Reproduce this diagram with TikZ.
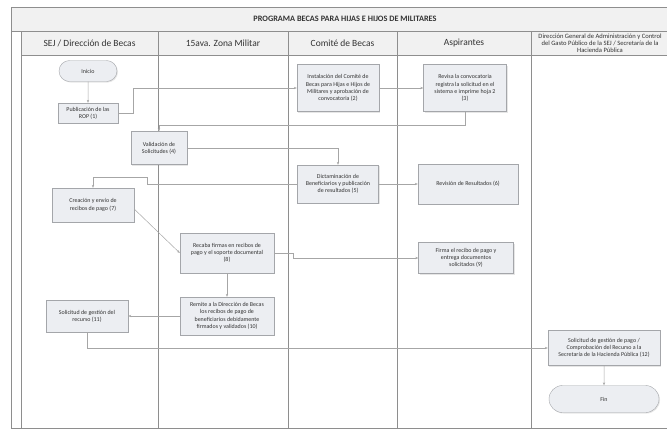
\documentclass[tikz,border=0pt]{standalone}
\usepackage{fontspec}
\setmainfont{Carlito}
\usetikzlibrary{arrows.meta,shadows,shapes.misc}
\definecolor{BoxFill}{HTML}{ECEEF2}
\definecolor{BoxLine}{HTML}{A4A6AA}
\definecolor{LaneLine}{HTML}{8E8E8E}
\definecolor{HeadFill}{HTML}{F1F1F1}

\begin{document}
\begin{tikzpicture}[x=1bp,y=-1bp,
    proc/.style={draw=BoxLine, fill=BoxFill, align=center, inner sep=1bp,
        font=\fontsize{6}{7.3}\selectfont, text=black!80,
        drop shadow={shadow xshift=1bp, shadow yshift=-1bp, opacity=0.2}},
    term/.style={proc, rounded rectangle},
    flow/.style={draw=gray!70, line width=0.5bp, -{Stealth[length=3bp,width=2.4bp]}},
    lanehead/.style={font=\fontsize{9.5}{11}\selectfont, text=black!80, align=center}]
    \useasboundingbox (0,0) rectangle (667,432);

%                    Pool and lanes
    \filldraw[draw=LaneLine, fill=HeadFill] (11,7) rectangle (700,31);
    \filldraw[draw=LaneLine, fill=HeadFill] (21,31) rectangle (700,55);
    \draw[LaneLine] (11,7) -- (11,428) -- (700,428);
    \foreach \x in {21,158,288,397,531} {
        \draw[LaneLine] (\x,31) -- (\x,428);
    }
    \node[font=\bfseries\fontsize{8.3}{10}\selectfont, text=black!80] (title) at (345,19) {PROGRAMA BECAS PARA HIJAS E HIJOS DE MILITARES};
    \node[lanehead] (lane1) at (89.5,43) {SEJ / Dirección de Becas};
    \node[lanehead] (lane2) at (223,43) {15ava. Zona Militar};
    \node[lanehead] (lane3) at (342.5,43) {Comité de Becas};
    \node[lanehead] (lane4) at (464,43) {Aspirantes};
    \node[lanehead, font=\fontsize{6.6}{7}\selectfont] (lane5) at (600,43) {Dirección General de Administración y Control\\del Gasto Público de la SEJ / Secretaría de la\\Hacienda Pública};

%                    Steps
    \node[term, minimum width=60bp, minimum height=21bp] (inicio) at (88,71) {Inicio};
    \node[proc, minimum width=60bp, minimum height=20bp] (rop) at (88,113) {Publicación de las\\ROP (1)};
    \node[proc, minimum width=82bp, minimum height=47bp] (comite) at (338,88) {Instalación del Comité de\\Becas para Hijas e Hijos de\\Militares y aprobación de\\convocatoria (2)};
    \node[proc, minimum width=83bp, minimum height=47bp] (revisa) at (465,88) {Revisa la convocatoria\\registra la solicitud en el\\sistema e imprime hoja 2\\(3)};
    \node[proc, minimum width=56bp, minimum height=33bp] (valida) at (159,148) {Validación de\\Solicitudes (4)};
    \node[proc, minimum width=81bp, minimum height=38bp] (dictamen) at (338,184) {Dictaminación de\\Beneficiarios y publicación\\de resultados (5)};
    \node[proc, minimum width=100bp, minimum height=40bp] (resultados) at (468,184) {Revisión de Resultados (6)};
    \node[proc, minimum width=82bp, minimum height=34bp] (creacion) at (93,205) {Creación y envío de\\recibos de pago (7)};
    \node[proc, minimum width=94bp, minimum height=40bp] (recaba) at (227,253) {Recaba firmas en recibos de\\pago y el soporte documental\\(8)};
    \node[proc, minimum width=95bp, minimum height=31bp] (firma) at (466,258) {Firma el recibo de pago y\\entrega documentos\\solicitados (9)};
    \node[proc, minimum width=94bp, minimum height=38bp] (remite) at (227,316) {Remite a la Dirección de Becas\\los recibos de pago de\\beneficiarios debidamente\\firmados y validados (10)};
    \node[proc, minimum width=82bp, minimum height=32bp] (gestion) at (87,316) {Solicitud de gestión del\\recurso (11)};
    \node[proc, minimum width=112bp, minimum height=35bp] (pago) at (604,348) {Solicitud de gestión de pago /\\Comprobación del Recurso a la\\Secretaría de la Hacienda Pública (12)};
    \node[term, minimum width=112bp, minimum height=27bp] (fin) at (604,399) {Fin};

%                    Connectors
    \draw[flow] (inicio) -- (rop);
    \draw[flow] (rop.east) -- ++(15,0) |- (comite.west);
    \draw[flow] (comite) -- (revisa);
    \draw[flow] (revisa.south) -- ++(0,14) -| (valida.north);
    \draw[flow] (valida.east) -| (dictamen.north);
    \draw[flow] (dictamen) -- (resultados);
    \draw[flow] (dictamen.west) -- ++(-150,0) -- ++(0,-7) -| (creacion.north);
    \draw[flow] ([yshift=-4bp]creacion.east) -- (recaba.west);
    \draw[flow] (recaba.east) -- ++(19,0) |- (firma.west);
    \draw[flow] (recaba) -- (remite);
    \draw[flow] (remite) -- (gestion);
    \draw[flow] (gestion.south) |- (pago.west);
    \draw[flow] (pago) -- (fin);
\end{tikzpicture}
\end{document}
